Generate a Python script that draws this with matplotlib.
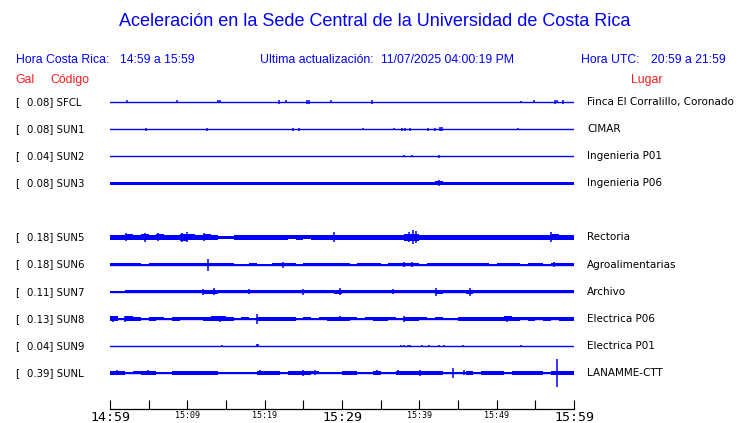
import matplotlib
matplotlib.use('Agg')
import matplotlib.pyplot as plt
import matplotlib.transforms as mtransforms
import numpy as np

# estaciones, de arriba hacia abajo (la fila 4 queda vacia)
codigos = ['SFCL', 'SUN1', 'SUN2', 'SUN3', 'SUN5', 'SUN6', 'SUN7', 'SUN8', 'SUN9', 'SUNL']
gal = [0.08, 0.08, 0.04, 0.08, 0.18, 0.18, 0.11, 0.13, 0.04, 0.39]
lugares = ['Finca El Corralillo, Coronado', 'CIMAR', 'Ingenieria P01', 'Ingenieria P06',
           'Rectoria', 'Agroalimentarias', 'Archivo', 'Electrica P06', 'Electrica P01',
           'LANAMME-CTT']
filas = [0, 1, 2, 3, 5, 6, 7, 8, 9, 10]

# minutos desde 14:59, etiquetas cada 5 min
tick_labels = ['14:59', '', '15:09', '', '15:19', '', '15:29', '', '15:39', '', '15:49', '', '15:59']

# envolvente del ruido por minuto (media altura, en pixeles)
env_sun3 = [1.6, 1.4, 1.6, 1.6, 1.6, 1.5, 1.4, 1.6, 1.6, 1.5,
            1.6, 1.4, 1.6, 1.6, 1.5, 1.6, 1.6, 1.4, 1.6, 1.6,
            1.5, 1.6, 1.6, 1.6, 1.4, 1.6, 1.6, 1.5, 1.6, 1.6,
            1.6, 1.6, 1.5, 1.6, 1.6, 1.6, 1.4, 1.6, 1.6, 1.6,
            1.6, 1.6, 1.8, 1.6, 1.6, 1.6, 1.6, 1.5, 1.6, 1.6,
            1.5, 1.6, 1.6, 1.5, 1.6, 1.6, 1.6, 1.6, 1.6, 1.6]
env_sun5 = [2.5, 2.5, 3.0, 2.5, 3.0, 2.8, 3.0, 2.5, 2.8, 3.2,
            3.0, 2.5, 3.0, 2.5, 1.8, 1.8, 2.2, 2.8, 2.5, 2.5,
            2.5, 2.5, 2.2, 2.0, 2.2, 2.0, 2.2, 2.5, 2.5, 2.8,
            2.5, 2.6, 2.5, 2.5, 2.2, 2.2, 2.5, 2.8, 3.2, 3.5,
            2.8, 2.5, 2.2, 2.2, 2.2, 2.5, 2.5, 2.8, 2.5, 2.5,
            2.5, 2.2, 2.5, 2.5, 2.5, 2.5, 2.8, 3.0, 2.5, 2.2]
env_sun6 = [1.6, 1.4, 1.6, 1.6, 0.6, 1.6, 1.6, 1.5, 1.6, 1.6,
            1.5, 1.6, 1.6, 1.8, 1.4, 1.4, 0.8, 1.0, 1.2, 0.5,
            0.6, 1.6, 1.6, 1.8, 0.6, 1.6, 1.6, 1.6, 1.6, 1.6,
            1.6, 0.7, 1.6, 1.6, 1.6, 0.8, 1.4, 1.6, 1.8, 1.4,
            0.8, 1.6, 1.6, 1.6, 1.6, 1.7, 1.7, 1.7, 1.5, 0.8,
            1.6, 1.6, 1.4, 0.8, 1.6, 1.5, 0.8, 1.6, 1.4, 1.6]
env_sun7 = [0.8, 0.9, 1.8, 1.8, 1.2, 1.8, 1.5, 1.8, 1.8, 1.8,
            1.8, 1.8, 2.0, 2.0, 1.8, 1.8, 1.2, 1.8, 1.8, 1.5,
            1.8, 1.8, 1.8, 1.8, 1.2, 1.8, 1.8, 1.8, 1.8, 1.9,
            1.8, 1.2, 1.8, 1.8, 1.8, 1.8, 1.2, 1.4, 1.8, 1.5,
            1.8, 1.8, 1.9, 1.8, 1.8, 1.2, 1.9, 1.8, 1.8, 1.8,
            1.8, 1.2, 1.8, 1.8, 1.8, 1.8, 1.5, 1.8, 1.3, 1.8]
env_sun8 = [2.6, 1.2, 2.4, 2.0, 1.2, 2.0, 1.5, 1.2, 2.0, 1.4,
            1.6, 1.5, 2.0, 2.4, 2.6, 2.2, 1.2, 1.4, 1.2, 2.0,
            1.9, 1.9, 1.9, 1.9, 1.0, 1.4, 1.0, 1.5, 2.0, 2.0,
            2.0, 1.4, 1.2, 1.6, 1.8, 2.0, 1.4, 1.0, 2.0, 2.0,
            1.5, 1.2, 1.5, 1.2, 1.0, 1.8, 2.2, 2.0, 2.2, 2.0,
            2.2, 2.3, 2.0, 1.5, 1.8, 1.5, 1.8, 1.5, 2.0, 2.0]
env_sunl = [1.6, 1.6, 0.6, 1.5, 1.6, 1.6, 1.3, 0.7, 1.6, 1.6,
            1.6, 1.6, 1.6, 1.6, 0.8, 0.8, 1.4, 0.8, 1.2, 1.6,
            1.6, 1.6, 0.8, 1.6, 1.6, 1.8, 1.5, 0.8, 1.0, 0.8,
            1.6, 1.6, 0.8, 0.8, 1.6, 1.0, 0.9, 1.6, 1.6, 1.6,
            1.6, 1.6, 1.6, 0.8, 1.0, 1.4, 1.6, 0.8, 1.6, 1.6,
            1.6, 0.8, 1.6, 1.6, 1.6, 1.6, 0.8, 1.6, 1.8, 1.6]

# picos (minuto, media altura en pixeles)
spikes_sfcl = [(2.2, 1.5), (8.6, 1.5), (14.0, 1.5), (14.2, 1.5), (21.9, 1.8), (22.7, 1.5),
               (25.5, 2.0), (25.7, 2.0), (28.6, 1.5), (33.9, 2.0), (53.1, 1.0), (54.8, 1.5),
               (57.6, 1.8), (57.8, 1.5), (58.6, 2.0)]
spikes_sun1 = [(4.7, 1.5), (12.6, 1.5), (23.7, 1.5), (24.4, 1.5), (32.7, 0.8), (36.7, 0.8),
               (37.8, 1.5), (38.1, 1.5), (38.8, 1.5), (41.1, 1.5), (42.0, 1.5), (42.7, 2.2),
               (42.9, 2.0), (52.8, 1.0)]
spikes_sun2 = [(38.0, 1.0), (39.1, 0.8), (42.6, 1.5)]
spikes_sun3 = [(42.6, 2.8)]
spikes_sun5 = [(2.1, 4.0), (4.5, 4.5), (6.2, 4.0), (9.3, 4.5), (10.0, 5.0), (12.2, 4.0),
               (29.0, 5.0), (38.6, 5.0), (39.2, 7.0), (39.6, 6.0), (57.0, 5.0)]
spikes_sun6 = [(12.7, 6.0), (22.4, 3.0), (38.0, 2.5), (39.1, 2.5), (57.4, 2.5)]
spikes_sun7 = [(12.0, 3.0), (13.5, 3.5), (18.0, 2.5), (25.0, 3.0), (29.7, 3.5), (36.6, 2.5),
               (42.2, 4.0), (46.5, 4.0)]
spikes_sun8 = [(0.4, 3.0), (2.0, 3.0), (14.2, 3.0), (19.0, 5.0), (29.7, 2.5), (38.0, 3.0),
               (51.4, 3.0)]
spikes_sun9 = [(14.5, 1.0), (19.0, 1.5), (19.2, 1.5), (37.6, 1.0), (38.0, 1.0), (38.5, 1.2),
               (38.8, 1.2), (40.4, 0.8), (41.3, 1.0), (42.6, 1.2), (43.2, 1.2), (45.7, 1.0),
               (53.2, 1.0)]
spikes_sunl = [(0.9, 2.5), (4.9, 2.5), (19.4, 2.5), (25.0, 3.0), (26.5, 2.5), (34.5, 2.5),
               (37.2, 2.5), (40.1, 3.0), (44.3, 5.0), (45.8, 2.5), (57.8, 14.0)]

envs = [None, None, None, env_sun3, env_sun5, env_sun6, env_sun7, env_sun8, None, env_sunl]
spikes = [spikes_sfcl, spikes_sun1, spikes_sun2, spikes_sun3, spikes_sun5, spikes_sun6,
          spikes_sun7, spikes_sun8, spikes_sun9, spikes_sunl]

azul = '#0000ff'
rojo = '#ff1a1a'
px = 1 / 27.1  # pixeles -> unidades de fila

W, H = 740, 423
fig = plt.figure(figsize=(W / 100, H / 100), dpi=100)
ax = fig.add_axes([110 / W, 1 - 409 / H, 464 / W, (409 - 90) / H])
ax.set_xlim(0, 60)
ax.set_ylim(11.33, -0.44)

minutos = np.arange(61)
for fila, env, sp in zip(filas, envs, spikes):
    ax.axhline(fila, color=azul, lw=1.0)
    if env is not None:
        a = np.array(env + [env[-1]]) * px
        ax.fill_between(minutos, fila - a, fila + a, step='post', color=azul, lw=0)
    t = [s[0] for s in sp]
    h = np.array([s[1] for s in sp]) * px
    ax.vlines(t, fila - h, fila + h, color=azul, lw=1.1)

for s in ['top', 'right', 'left']:
    ax.spines[s].set_visible(False)
ax.spines['bottom'].set_linewidth(0.9)
ax.set_yticks([])
ax.set_xticks(np.arange(0, 61, 5))
ax.set_xticklabels(tick_labels)
ax.tick_params(axis='x', direction='in', length=6.5, width=0.8, pad=1.5)
for i, lab in enumerate(ax.get_xticklabels()):
    lab.set_family('DejaVu Sans Mono')
    lab.set_fontsize(9.5 if i % 6 == 0 else 6)

# textos de filas
tr = mtransforms.blended_transform_factory(fig.transFigure, ax.transData)
for fila, c, g, l in zip(filas, codigos, gal, lugares):
    ax.text(15 / W, fila, '[', transform=tr, fontsize=7.3, va='center', clip_on=False)
    ax.text(27 / W, fila, '%.2f] %s' % (g, c), transform=tr, fontsize=7.3, va='center',
            clip_on=False)
    ax.text(587 / W, fila, l, transform=tr, fontsize=7.5, va='center', clip_on=False)

# encabezado
hf = 'Liberation Sans'
fig.text(0.5 * (120 + 630) / W, 1 - 22 / H,
         'Aceleración en la Sede Central de la Universidad de Costa Rica',
         ha='center', va='center', color=azul, fontsize=13, family=hf)
fig.text(16 / W, 1 - 60 / H, 'Hora Costa Rica:', color=azul, fontsize=8.8, va='center', family=hf)
fig.text(120 / W, 1 - 60 / H, '14:59 a 15:59', color=azul, fontsize=8.8, va='center', family=hf)
fig.text(260 / W, 1 - 60 / H, 'Ultima actualización:', color=azul, fontsize=8.8, va='center', family=hf)
fig.text(381 / W, 1 - 60 / H, '11/07/2025 04:00:19 PM', color=azul, fontsize=8.8, va='center', family=hf)
fig.text(581 / W, 1 - 60 / H, 'Hora UTC:', color=azul, fontsize=8.8, va='center', family=hf)
fig.text(651 / W, 1 - 60 / H, '20:59 a 21:59', color=azul, fontsize=8.8, va='center', family=hf)
fig.text(15 / W, 1 - 80 / H, 'Gal', color=rojo, fontsize=8.8, va='center', family=hf)
fig.text(50 / W, 1 - 80 / H, 'Código', color=rojo, fontsize=8.8, va='center', family=hf)
fig.text(647 / W, 1 - 80 / H, 'Lugar', color=rojo, fontsize=8.8, va='center', ha='center', family=hf)

fig.savefig('out.png', dpi=100)
